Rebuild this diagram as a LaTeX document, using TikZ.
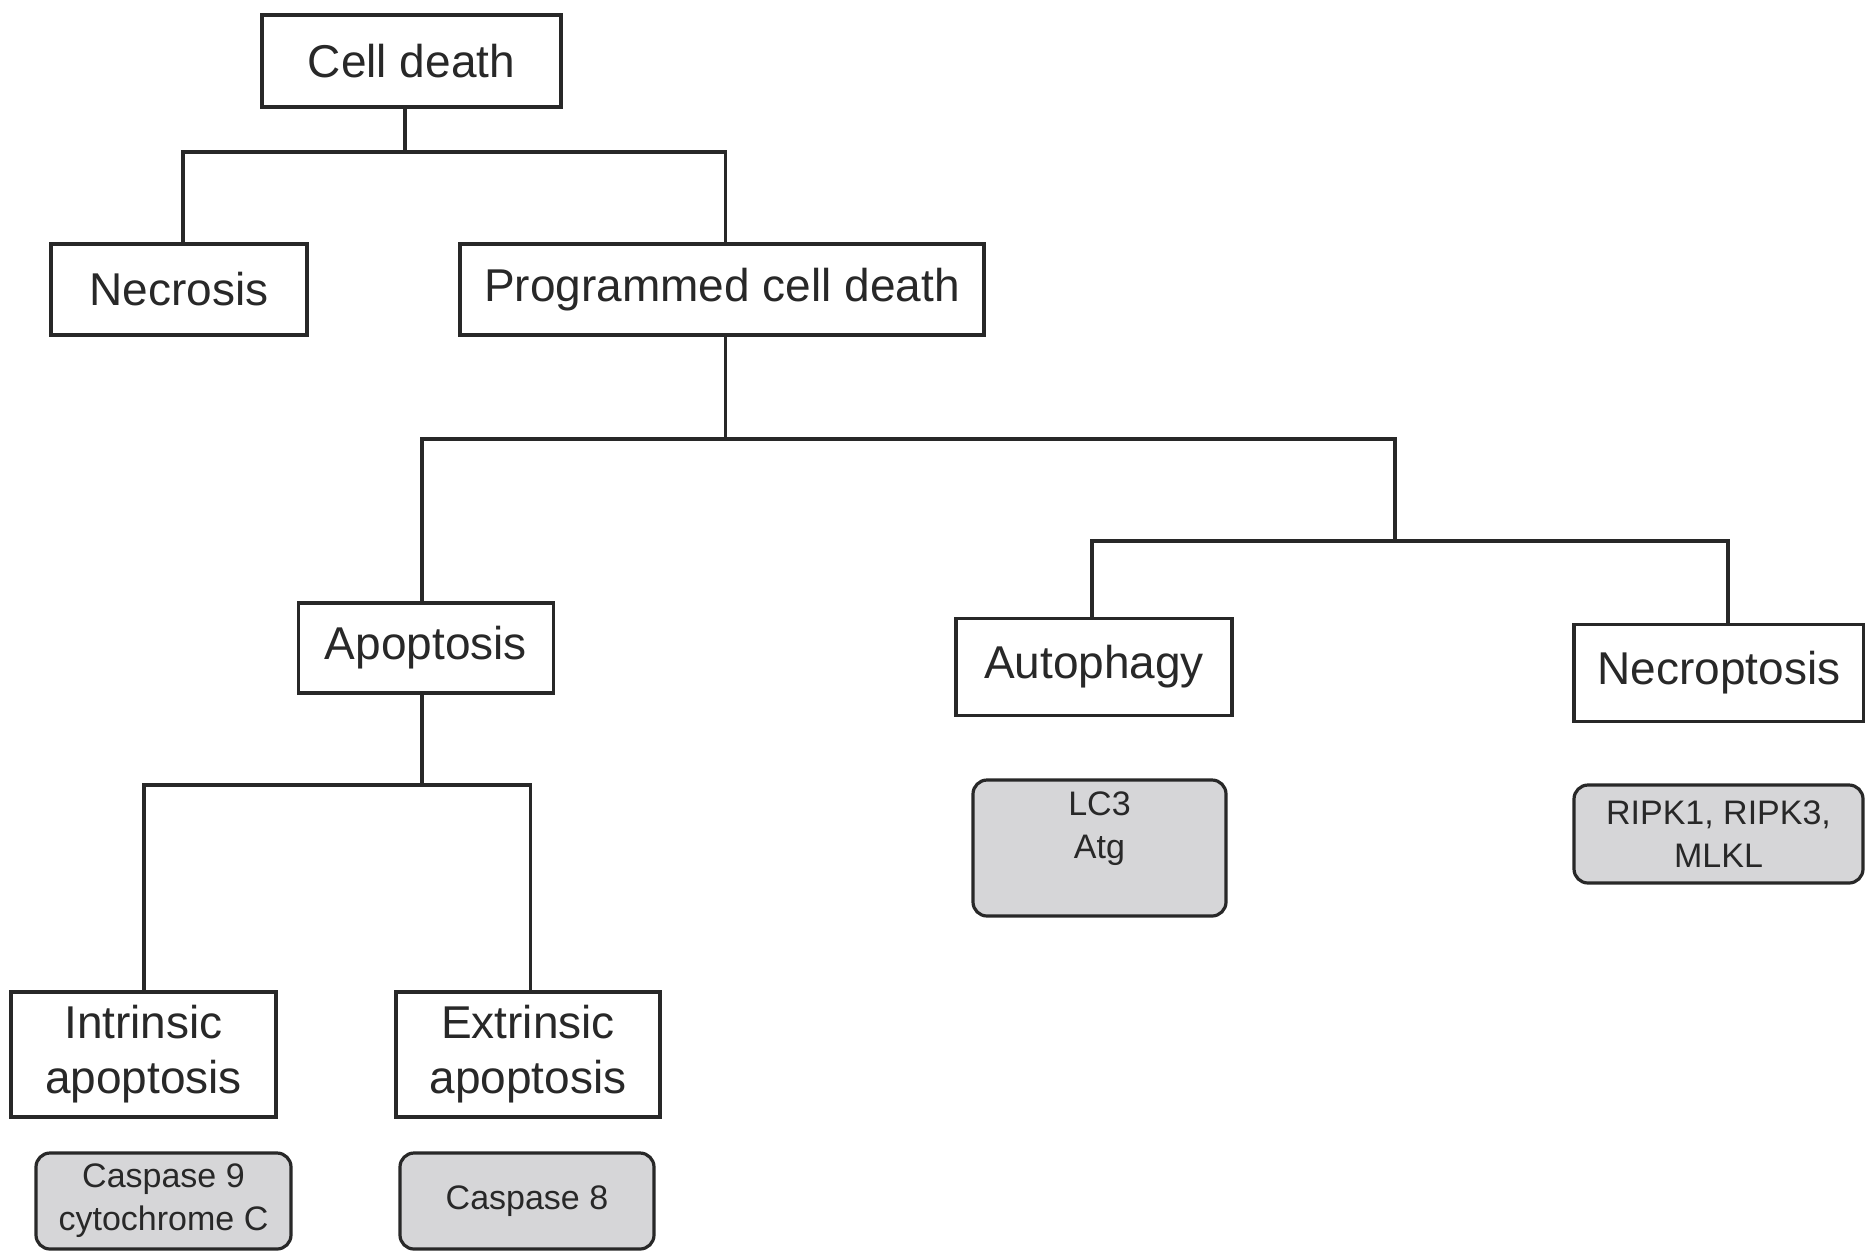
\documentclass[tikz,border=0pt]{standalone}
\usepackage{fontspec}
\setmainfont{Liberation Sans}
\definecolor{ink}{RGB}{40,40,40}
\definecolor{boxgray}{RGB}{214,214,216}
\begin{document}
\begin{tikzpicture}[x=1pt,y=-1pt,
  mainbox/.style={draw=ink, line width=3.2pt, fill=white, text=ink, inner sep=0pt,
    align=center, font=\fontsize{46}{55}\selectfont},
  graybox/.style={draw=ink, line width=3.2pt, fill=boxgray, text=ink, inner sep=0pt,
    rounded corners=14pt, align=center, font=\fontsize{34}{43}\selectfont},
  conn/.style={draw=ink, line width=3.2pt}]
\useasboundingbox (0,0) rectangle (1865,1254);
% main boxes
\node[mainbox, minimum width=299pt, minimum height=92pt] (cd) at (411.5,61) {Cell death};
\node[mainbox, minimum width=256pt, minimum height=91pt] (nec) at (179,289.5) {Necrosis};
\node[mainbox, minimum width=524pt, minimum height=91pt] (pcd) at (722,289.5) {Programmed cell death};
\node[mainbox, minimum width=255pt, minimum height=90pt] (apo) at (426,648) {Apoptosis};
\node[mainbox, minimum width=276pt, minimum height=97pt] (aut) at (1094,667) {Autophagy};
\node[mainbox, minimum width=290pt, minimum height=97pt] (necro) at (1719,673) {Necroptosis};
\node[mainbox, minimum width=265pt, minimum height=125pt] (intr) at (143.5,1054.5) {Intrinsic\\apoptosis};
\node[mainbox, minimum width=264pt, minimum height=125pt] (extr) at (528,1054.5) {Extrinsic\\apoptosis};
% gray boxes
\node[graybox] (lc3) at (1099.5,848)
  {\parbox[c][136pt][t]{253pt}{\centering\vspace*{12pt}LC3\\Atg}};
\node[graybox, minimum width=289pt, minimum height=98pt] (ripk) at (1718.5,834) {RIPK1, RIPK3,\\MLKL};
\node[graybox, minimum width=255pt, minimum height=96pt] (c9) at (163.5,1201) {Caspase 9\\cytochrome C};
\node[graybox, minimum width=254pt, minimum height=96pt] (c8) at (527,1201) {Caspase 8};
% connector anchors
\coordinate (y1) at (0,152);
\coordinate (y2) at (0,439);
\coordinate (y3) at (0,541);
\coordinate (y4) at (0,785);
\coordinate (cdo) at ([xshift=-6.5pt]cd.south);
\coordinate (neci) at ([xshift=4pt]nec.north);
\coordinate (pcdi) at ([xshift=3.5pt]pcd.north);
\coordinate (pcdo) at ([xshift=3.5pt]pcd.south);
\coordinate (apoi) at ([xshift=-4pt]apo.north);
\coordinate (apoo) at ([xshift=-4pt]apo.south);
\coordinate (auti) at ([xshift=-2pt]aut.north);
\coordinate (necri) at ([xshift=9pt]necro.north);
\coordinate (intri) at ([xshift=0.5pt]intr.north);
\coordinate (extri) at ([xshift=2.5pt]extr.north);
\coordinate (j2) at (1395,439);
% connectors
\draw[conn] (cdo) -- (cdo |- y1);
\draw[conn] (neci) |- (pcdi |- y1) -- (pcdi);
\draw[conn] (pcdo) -- (pcdo |- y2);
\draw[conn] (apoi) |- (j2) -- (j2 |- y3);
\draw[conn] (auti) |- (necri |- y3) -- (necri);
\draw[conn] (apoo) -- (apoo |- y4);
\draw[conn] (intri) |- (extri |- y4) -- (extri);
\end{tikzpicture}
\end{document}
